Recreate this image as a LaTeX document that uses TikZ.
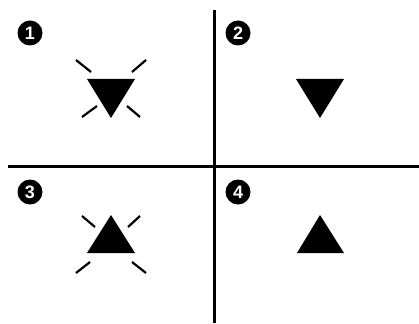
\documentclass[tikz,border=0pt]{standalone}
\usepackage{fontspec}
\setsansfont{Liberation Sans}
\usetikzlibrary{shapes}

\begin{document}
\begin{tikzpicture}[x=1pt,y=-1pt]
    \tikzset{badge/.style = {shape=circle,fill=black,text=white,inner sep=0pt,minimum size=25pt,font=\sffamily\bfseries\fontsize{18}{18}\selectfont}}
    \tikzset{divider/.style = {line width=3pt}}
    \tikzset{ray/.style = {line width=2.2pt}}

    \useasboundingbox (0,0) rectangle (419,323);

    \draw[divider] (8,166) -- (419,166);
    \draw[divider] (214,10) -- (214,323);

    \node[badge] (n1) at (30,33) {1};
    \node[badge] (n2) at (238,33) {2};
    \node[badge] (n3) at (30,192) {3};
    \node[badge] (n4) at (238,192) {4};

    % panel 1
    \fill (87,79) -- (135,79) -- (111,118) -- cycle;
    \draw[ray] (76,60) -- (91,72);
    \draw[ray] (146,60) -- (132,72);
    \draw[ray] (82,117) -- (97,106);
    \draw[ray] (140,117) -- (127,106);

    % panel 2
    \fill (296,79) -- (344,79) -- (320,118) -- cycle;

    % panel 3
    \fill (87,253) -- (135,253) -- (111,215) -- cycle;
    \draw[ray] (82,216) -- (95,227);
    \draw[ray] (140,216) -- (128,227);
    \draw[ray] (76,273) -- (90,262);
    \draw[ray] (146,273) -- (132,262);

    % panel 4
    \fill (297,253) -- (344,253) -- (320,215) -- cycle;
\end{tikzpicture}
\end{document}
